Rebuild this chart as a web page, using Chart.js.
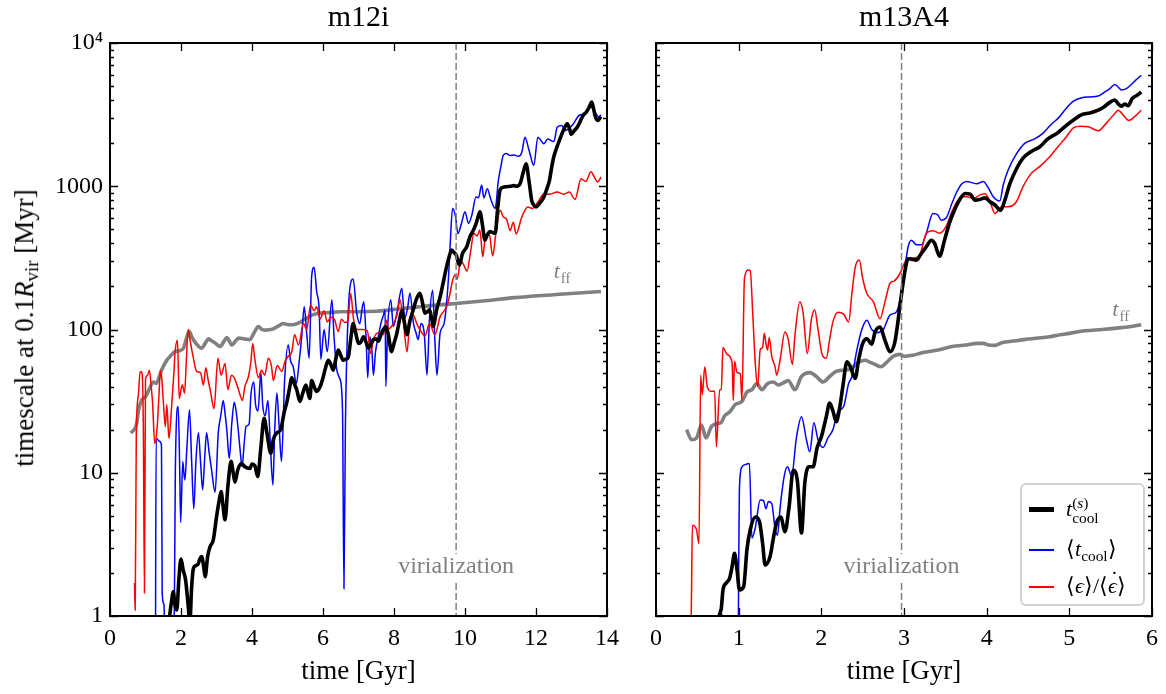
<!DOCTYPE html>
<html>
<head>
<meta charset="utf-8">
<script src="https://cdn.jsdelivr.net/npm/chart.js@4.4.0/dist/chart.umd.min.js"></script>
<style>
  body { margin: 0; background: #fff; }
  #wrap { position: relative; width: 1166px; height: 694px; font-family: "Liberation Serif", serif; }
  canvas { position: absolute; top: 0; }
  #ylab { position: absolute; left: 26px; top: 328px; transform: translate(-50%, -50%) rotate(-90deg);
          white-space: nowrap; font-size: 27px; color: #000; }
  #ylab sub { font-size: 0.7em; vertical-align: -0.25em; }
  #legend { position: absolute; left: 1020px; top: 483px; width: 121px; height: 119px;
            border: 2px solid #d2d2d2; border-radius: 6px; background: rgba(255,255,255,0.85); font-size: 22px; }
  .row { position: absolute; left: 0; width: 100%; height: 30px; }
  .swatch { position: absolute; left: 7px; width: 25px; }
  .lab { position: absolute; left: 44px; top: 0; white-space: nowrap; line-height: 30px; }
  .ss { display: inline-block; vertical-align: -0.45em; line-height: 0.95; font-size: 0.7em; text-align: left; }
  .lab sub { font-size: 0.7em; vertical-align: -0.3em; }
  .dot { position: relative; display: inline-block; }
  .dot::after { content: "\02D9"; position: absolute; left: 0.12em; top: -0.32em; font-style: normal; }
</style>
</head>
<body>
<div id="wrap">
  <canvas id="c1" width="640" height="694" style="left:0"></canvas>
  <canvas id="c2" width="546" height="694" style="left:620px"></canvas>
  <div id="ylab">timescale at 0.1<i>R</i><sub>vir</sub> [Myr]</div>
  <div id="legend">
    <div class="row" style="top:9px"><div class="swatch" style="top:13px;height:5px;background:#000"></div>
      <div class="lab"><i>t</i><span class="ss">(<i>s</i>)<br>cool</span></div></div>
    <div class="row" style="top:49px"><div class="swatch" style="top:15px;height:2px;background:#0000ff"></div>
      <div class="lab">⟨<i>t</i><sub>cool</sub>⟩</div></div>
    <div class="row" style="top:86px"><div class="swatch" style="top:15px;height:2px;background:#ff0000"></div>
      <div class="lab">⟨<i>ϵ</i>⟩/⟨<i class="dot">ϵ</i>⟩</div></div>
  </div>
</div>
<script>
// m12i panel, [time Gyr, timescale Myr]
const m12iTff = [[0.58,19],[0.68,20],[0.75,22],[0.8,27],[0.89,32],[1.0,34],[1.1,38],[1.22,43],[1.3,42],[1.45,52],[1.6,61],[1.72,66],[1.83,70],[1.95,71],[2.07,74],[2.15,86],[2.23,97],[2.31,88],[2.39,82],[2.48,77],[2.58,74],[2.68,80],[2.77,86],[2.84,84],[2.91,82],[3.0,79],[3.1,76],[3.2,82],[3.29,88],[3.36,83],[3.43,78],[3.52,82],[3.62,87],[3.78,86],[3.94,85],[4.06,95],[4.18,105],[4.28,100],[4.37,99],[4.6,101],[4.75,106],[4.88,110],[5.02,108],[5.16,108],[5.35,112],[5.48,118],[5.59,122],[5.72,127],[5.82,129],[6.1,131],[6.5,133],[7.0,133],[7.5,134],[7.89,137],[8.36,141],[8.73,144],[9.2,148],[9.75,152],[10.5,158],[11.4,167],[12.5,175],[13.2,180],[13.83,184]];

const m12iCoolS = [[1.62,0.7],[1.69,1.05],[1.74,1.3],[1.78,1.48],[1.83,1.2],[1.88,1.1],[1.94,1.8],[2.0,2.5],[2.06,2.1],[2.13,1.78],[2.2,1.2],[2.25,0.9],[2.3,1.6],[2.35,2.15],[2.42,2.25],[2.48,2.3],[2.53,2.5],[2.58,2.6],[2.64,2.2],[2.68,1.88],[2.75,2.6],[2.82,3.05],[2.91,3.4],[3.0,4.9],[3.07,6.3],[3.13,7.4],[3.18,6.0],[3.24,4.7],[3.32,8],[3.41,12],[3.47,10],[3.52,8.6],[3.6,10.5],[3.71,11.6],[3.8,11],[3.94,10.7],[4.0,11.5],[4.08,11.2],[4.16,9.4],[4.25,15],[4.34,24],[4.42,19],[4.53,13.7],[4.6,17],[4.7,19],[4.81,20],[4.9,26],[4.98,31],[5.05,38],[5.12,46],[5.19,42],[5.26,38],[5.35,31.5],[5.43,36],[5.52,41],[5.58,36],[5.63,33],[5.68,44],[5.75,40],[5.82,37],[5.92,40],[6.01,47],[6.08,55],[6.15,61],[6.22,57],[6.29,52],[6.36,62],[6.43,72],[6.5,66],[6.57,61],[6.64,62],[6.71,64],[6.78,85],[6.85,110],[6.92,95],[7.0,80],[7.07,82],[7.14,89],[7.21,82],[7.28,74],[7.35,79],[7.42,85],[7.49,86],[7.56,83],[7.63,92],[7.7,100],[7.77,105],[7.84,92],[7.93,70],[8.0,80],[8.08,94],[8.15,115],[8.22,135],[8.3,110],[8.36,92],[8.45,115],[8.54,137],[8.64,165],[8.73,179],[8.8,155],[8.87,130],[8.94,133],[9.0,137],[9.06,120],[9.11,105],[9.16,120],[9.2,137],[9.3,169],[9.39,215],[9.48,274],[9.55,320],[9.62,359],[9.69,345],[9.75,332],[9.84,282],[9.93,340],[10.05,378],[10.14,445],[10.21,480],[10.28,522],[10.35,590],[10.42,664],[10.49,540],[10.56,421],[10.63,460],[10.7,482],[10.78,476],[10.85,470],[10.92,700],[10.99,942],[11.08,985],[11.17,993],[11.28,1000],[11.38,1010],[11.46,1000],[11.55,1040],[11.64,1250],[11.72,1435],[11.8,1100],[11.88,795],[11.94,740],[12.0,716],[12.1,760],[12.22,840],[12.3,950],[12.38,1100],[12.44,1350],[12.5,1600],[12.58,1850],[12.66,2090],[12.77,2450],[12.88,2730],[12.94,2550],[12.99,2300],[13.08,2450],[13.16,2580],[13.25,2850],[13.33,3130],[13.42,3300],[13.5,3570],[13.57,3870],[13.62,3500],[13.66,3130],[13.74,2880],[13.83,3060]];

const m12iCoolAvg = [[1.28,0.5],[1.3,17.4],[1.35,17],[1.4,16.5],[1.45,15.5],[1.47,1.45],[1.52,1.2],[1.56,0.5],[1.8,0.5],[1.84,10],[1.92,29],[1.96,12],[1.99,4.5],[2.05,12],[2.08,10],[2.11,8.9],[2.16,14],[2.24,27.5],[2.3,12],[2.36,5.6],[2.42,12],[2.49,19],[2.55,12],[2.61,7.6],[2.67,13],[2.72,19],[2.79,14],[2.86,10.5],[2.96,7.3],[3.05,19],[3.12,25],[3.19,32],[3.24,26],[3.29,20],[3.36,12.6],[3.43,22],[3.5,31],[3.56,26],[3.62,19],[3.67,14],[3.72,11],[3.78,16],[3.83,21],[3.92,22],[3.97,35],[4.05,43],[4.1,30],[4.17,27],[4.25,50],[4.3,30],[4.37,25],[4.45,32],[4.52,15],[4.59,8.2],[4.64,20],[4.7,36],[4.76,22],[4.83,12],[4.92,45],[5.02,78],[5.09,60],[5.16,55],[5.25,42],[5.33,60],[5.4,89],[5.47,144],[5.54,95],[5.61,63],[5.68,234],[5.75,272],[5.82,185],[5.89,140],[5.94,62],[6.03,100],[6.12,70],[6.25,161],[6.31,90],[6.39,52],[6.48,45],[6.55,27],[6.59,1.55],[6.63,20],[6.71,130],[6.8,220],[6.85,225],[6.95,130],[7.04,110],[7.1,140],[7.15,156],[7.22,80],[7.26,46],[7.32,89],[7.38,70],[7.42,48],[7.48,70],[7.56,90],[7.63,110],[7.7,125],[7.75,137],[7.77,40],[7.82,100],[7.91,161],[7.98,105],[8.08,130],[8.22,194],[8.3,120],[8.38,140],[8.45,179],[8.55,110],[8.62,95],[8.68,85],[8.76,110],[8.85,95],[8.93,48],[9.0,120],[9.09,188],[9.15,85],[9.21,48],[9.3,95],[9.41,110],[9.53,220],[9.58,380],[9.65,700],[9.73,620],[9.8,468],[9.9,550],[10.0,665],[10.1,550],[10.2,640],[10.31,845],[10.38,830],[10.47,1020],[10.53,830],[10.63,960],[10.72,820],[10.85,700],[10.94,1100],[11.01,1370],[11.08,1650],[11.17,1690],[11.27,1640],[11.38,1650],[11.5,1620],[11.6,1730],[11.69,2200],[11.8,1800],[11.94,1400],[12.05,2200],[12.22,1980],[12.33,2140],[12.5,2050],[12.6,2590],[12.72,2650],[12.83,2450],[12.94,2550],[13.05,2720],[13.22,3130],[13.39,3200],[13.55,3570],[13.66,3300],[13.77,3040],[13.83,3150]];

const m12iEps = [[0.69,1.7],[0.71,1.1],[0.74,17.8],[0.8,35],[0.85,51],[0.9,50],[0.94,20],[0.97,1.45],[1.0,45],[1.06,48],[1.11,52],[1.16,40],[1.2,30.6],[1.26,16],[1.33,21],[1.38,35],[1.42,52],[1.46,45],[1.5,32],[1.56,21],[1.6,30],[1.66,17.4],[1.74,30],[1.8,50],[1.83,68],[1.9,84],[1.95,33],[2.0,38],[2.04,41],[2.1,36],[2.15,60],[2.2,100],[2.27,80],[2.34,65],[2.44,51],[2.55,50],[2.63,41],[2.7,54],[2.76,45],[2.83,37],[2.93,28],[3.04,63],[3.13,48],[3.24,58],[3.32,38],[3.42,48],[3.5,46],[3.62,38],[3.73,32],[3.8,40],[3.9,47],[3.97,60],[4.02,80],[4.08,62],[4.18,46],[4.27,52],[4.36,48],[4.46,63],[4.55,55],[4.6,44],[4.71,56],[4.84,51],[4.93,60],[5.02,65],[5.12,70],[5.2,92],[5.31,78],[5.45,110],[5.54,100],[5.65,148],[5.75,135],[5.82,144],[5.92,119],[6.03,135],[6.12,113],[6.22,122],[6.32,118],[6.43,97],[6.52,118],[6.62,112],[6.7,115],[6.78,179],[6.86,118],[6.95,100],[7.1,100],[7.25,98],[7.34,68],[7.42,85],[7.56,95],[7.7,92],[7.79,116],[7.84,101],[7.93,105],[8.08,125],[8.17,161],[8.26,115],[8.37,70],[8.45,120],[8.55,125],[8.64,110],[8.73,100],[8.87,90],[9.0,110],[9.15,92],[9.3,123],[9.48,144],[9.58,179],[9.65,220],[9.72,240],[9.78,225],[9.88,302],[9.97,280],[10.06,256],[10.15,340],[10.25,468],[10.34,450],[10.42,495],[10.5,322],[10.56,420],[10.68,470],[10.78,326],[10.87,468],[10.99,680],[11.08,610],[11.17,590],[11.27,490],[11.36,560],[11.44,465],[11.6,610],[11.77,716],[11.9,700],[12.1,810],[12.22,888],[12.38,880],[12.6,910],[12.78,880],[12.94,910],[13.1,810],[13.27,1130],[13.4,1080],[13.55,1260],[13.65,1150],[13.74,1070],[13.83,1160]];

// m13A4 panel
const m13Tff = [[0.37,20],[0.43,17],[0.49,17.5],[0.55,21.5],[0.605,17.5],[0.67,21],[0.73,22],[0.79,22.5],[0.83,25],[0.89,26.5],[0.96,30],[1.04,31.5],[1.1,36.6],[1.16,38],[1.22,42],[1.28,38],[1.35,42],[1.42,43],[1.48,41],[1.56,43],[1.6,44],[1.68,38],[1.76,47],[1.86,50],[1.94,47],[2.02,43],[2.1,47],[2.18,51],[2.26,52],[2.35,53],[2.43,58],[2.53,61],[2.59,59],[2.65,57],[2.72,55],[2.79,59],[2.87,65],[2.95,67],[3.0,65],[3.1,66],[3.23,69],[3.41,72],[3.58,76],[3.75,78],[3.89,80],[3.96,80],[4.02,78],[4.1,77.5],[4.19,81],[4.32,83],[4.45,85],[4.6,87],[4.76,89],[4.89,92],[5.0,94],[5.19,98],[5.4,100],[5.63,103],[5.75,105],[5.87,108]];

const m13CoolS = [[0.74,0.7],[0.766,1.0],[0.79,1.13],[0.81,1.52],[0.85,1.7],[0.89,1.83],[0.92,2.2],[0.95,2.74],[0.98,2.1],[1.01,1.52],[1.06,1.6],[1.1,2.9],[1.14,4.0],[1.2,4.9],[1.25,4.6],[1.29,3.2],[1.32,2.27],[1.38,2.6],[1.42,3.5],[1.46,4.5],[1.51,4.9],[1.56,3.88],[1.61,5.8],[1.66,10.4],[1.71,8.8],[1.76,3.8],[1.8,8.5],[1.85,11],[1.9,11],[1.95,15],[2.0,17.8],[2.06,24.6],[2.1,30.6],[2.14,27],[2.18,22.7],[2.22,28],[2.26,40],[2.31,59.6],[2.35,55],[2.41,45.6],[2.45,61],[2.5,80],[2.55,86],[2.61,79],[2.65,96],[2.71,104],[2.77,84],[2.83,70],[2.89,82],[2.95,144],[3.0,233],[3.05,312],[3.09,310],[3.15,305],[3.21,340],[3.27,378],[3.33,420],[3.37,400],[3.43,325],[3.49,420],[3.55,555],[3.61,680],[3.67,800],[3.74,890],[3.8,880],[3.86,800],[3.92,810],[3.98,830],[4.04,780],[4.1,740],[4.17,680],[4.22,800],[4.28,1040],[4.36,1320],[4.44,1570],[4.54,1750],[4.64,1880],[4.74,2140],[4.85,2340],[4.95,2620],[5.05,2900],[5.15,3160],[5.25,3250],[5.35,3400],[5.41,3550],[5.49,3850],[5.55,4000],[5.59,3770],[5.63,3620],[5.67,3750],[5.71,3650],[5.76,4090],[5.82,4320],[5.87,4550]];

const m13CoolAvg = [[0.76,1.1],[0.79,1.05],[0.82,0.8],[0.99,0.5],[1.01,8],[1.04,11],[1.08,11.4],[1.13,11.6],[1.16,3.5],[1.2,4.1],[1.26,6.45],[1.3,6.4],[1.33,5.6],[1.36,6.3],[1.4,6.1],[1.44,4.1],[1.47,3.66],[1.5,5.6],[1.55,9.4],[1.59,11],[1.64,9.5],[1.7,17.8],[1.76,24.6],[1.82,17],[1.86,14],[1.91,22.3],[1.96,17],[2.02,15],[2.08,17.5],[2.14,20],[2.2,26.6],[2.27,29],[2.33,42],[2.37,47],[2.43,72],[2.49,100],[2.55,116],[2.61,100],[2.67,95],[2.75,100],[2.83,126],[2.91,133],[2.95,160],[3.0,245],[3.05,378],[3.09,420],[3.15,390],[3.21,390],[3.27,470],[3.35,645],[3.41,630],[3.45,580],[3.51,600],[3.58,760],[3.64,915],[3.7,1040],[3.76,1080],[3.82,1060],[3.88,1040],[3.96,1080],[4.02,975],[4.08,845],[4.16,790],[4.2,1020],[4.26,1300],[4.36,1680],[4.46,1990],[4.58,2140],[4.68,2340],[4.78,2700],[4.88,3050],[4.96,3490],[5.05,3930],[5.15,4150],[5.25,4200],[5.35,4260],[5.43,4550],[5.49,4800],[5.55,5130],[5.59,4930],[5.63,4700],[5.69,4800],[5.76,5200],[5.8,5480],[5.87,5950]];

const m13Eps = [[0.42,0.5],[0.43,1.5],[0.44,4.3],[0.49,4.0],[0.52,3.2],[0.54,48],[0.56,35],[0.59,55],[0.62,40],[0.67,37],[0.71,37],[0.73,15.2],[0.77,38],[0.79,38],[0.81,75],[0.86,67],[0.92,59],[0.935,32],[0.95,60],[0.98,50],[1.02,49],[1.04,32],[1.07,228],[1.12,260],[1.14,258],[1.17,130],[1.2,59],[1.23,40],[1.26,72],[1.29,75],[1.31,94],[1.33,80],[1.35,72],[1.37,88],[1.4,65],[1.44,55],[1.46,48],[1.5,61],[1.56,96],[1.6,85],[1.65,57],[1.68,90],[1.74,156],[1.78,130],[1.83,68],[1.88,118],[1.92,137],[1.96,100],[2.01,67],[2.06,63],[2.1,85],[2.14,113],[2.2,132],[2.27,128],[2.33,113],[2.37,179],[2.41,272],[2.46,306],[2.5,228],[2.55,179],[2.63,156],[2.71,119],[2.77,156],[2.83,210],[2.88,218],[2.95,245],[3.03,306],[3.11,315],[3.19,330],[3.27,470],[3.35,490],[3.43,470],[3.51,525],[3.58,665],[3.64,780],[3.7,845],[3.76,845],[3.84,820],[3.92,870],[3.98,885],[4.04,780],[4.1,645],[4.18,720],[4.26,720],[4.36,780],[4.44,995],[4.54,1230],[4.64,1370],[4.76,1600],[4.86,1880],[4.96,2200],[5.05,2560],[5.13,2620],[5.23,2600],[5.35,2440],[5.45,2770],[5.55,3220],[5.59,3390],[5.66,3100],[5.72,2880],[5.8,3100],[5.87,3390]];

const yTickValues = [1, 10, 100, 1000, 10000];
const yTickLabels = ['1', '10', '100', '1000', '10\u2074'];

const FONT = '"Liberation Serif", serif';
const GRAY = '#808080';

function pts(arr) {
    return arr.map(p => ({ x: p[0], y: p[1] }));
}

// frame, inward ticks, titles, virialization marker, t_ff label
const panelDeco = {
    id: 'panelDeco',
    afterDatasetsDraw(chart, args, o) {
        const { ctx, chartArea: a, scales: { x, y } } = chart;
        ctx.save();
        const vx = x.getPixelForValue(o.vir);
        ctx.strokeStyle = GRAY;
        ctx.lineWidth = 1.5;
        ctx.setLineDash([7, 3]);
        ctx.beginPath();
        ctx.moveTo(vx, a.top);
        ctx.lineTo(vx, a.bottom);
        ctx.stroke();
        ctx.setLineDash([]);

        ctx.font = '24px ' + FONT;
        const ty = y.getPixelForValue(2.2);
        const w = ctx.measureText('virialization').width;
        ctx.fillStyle = '#fff';
        ctx.fillRect(vx - w / 2 - 2, ty - 13, w + 4, 26);
        ctx.fillStyle = GRAY;
        ctx.textAlign = 'center';
        ctx.textBaseline = 'middle';
        ctx.fillText('virialization', vx, ty);

        // t_ff label
        const lx = x.getPixelForValue(o.tff[0]);
        const ly = y.getPixelForValue(o.tff[1]);
        ctx.textAlign = 'left';
        ctx.textBaseline = 'alphabetic';
        ctx.font = 'italic 22px ' + FONT;
        ctx.fillText('t', lx, ly);
        const tw = ctx.measureText('t').width;
        ctx.font = '15px ' + FONT;
        ctx.fillText('ff', lx + tw + 1, ly + 5);
        ctx.restore();
    },
    afterDraw(chart, args, o) {
        const { ctx, chartArea: a, scales: { x, y } } = chart;
        ctx.save();
        ctx.strokeStyle = '#000';
        ctx.lineWidth = 1.3;
        ctx.beginPath();
        for (let v = 0; v <= o.xMax + 1e-9; v += o.xStep) {
            const px = Math.round(x.getPixelForValue(v)) + 0.5;
            ctx.moveTo(px, a.bottom); ctx.lineTo(px, a.bottom - 8);
            ctx.moveTo(px, a.top); ctx.lineTo(px, a.top + 8);
        }
        for (let d = 1; d <= 10000; d *= 10) {
            for (let k = 1; k <= 9; k++) {
                const v = d * k;
                if (v > 10000) break;
                const py = Math.round(y.getPixelForValue(v)) + 0.5;
                const len = k === 1 ? 8 : 4;
                ctx.moveTo(a.left, py); ctx.lineTo(a.left + len, py);
                ctx.moveTo(a.right, py); ctx.lineTo(a.right - len, py);
            }
        }
        ctx.stroke();
        ctx.lineWidth = 2;
        ctx.strokeRect(a.left, a.top, a.right - a.left, a.bottom - a.top);

        ctx.fillStyle = '#000';
        ctx.font = '30px ' + FONT;
        ctx.textAlign = 'center';
        ctx.textBaseline = 'alphabetic';
        ctx.fillText(o.title, (a.left + a.right) / 2, 26);
        ctx.restore();
    }
};
Chart.register(panelDeco);

function makePanel(id, cfg) {
    const line = (data, color, width) => ({
        data: pts(data),
        borderColor: color,
        borderWidth: width,
        pointRadius: 0,
        fill: false,
        cubicInterpolationMode: 'monotone',
        clip: 0
    });
    return new Chart(document.getElementById(id), {
        type: 'line',
        data: {
            datasets: [
                line(cfg.coolS, '#000000', 3.6),
                line(cfg.eps, '#ff0000', 1.5),
                line(cfg.coolAvg, '#0000ff', 1.5),
                line(cfg.tff, GRAY, 3.6)
            ]
        },
        options: {
            responsive: false,
            animation: false,
            devicePixelRatio: 1,
            layout: { padding: cfg.padding },
            plugins: {
                legend: { display: false },
                tooltip: { enabled: false },
                panelDeco: { vir: cfg.vir, tff: cfg.tffLabel, xMax: cfg.xMax, xStep: cfg.xStep, title: cfg.title }
            },
            scales: {
                x: {
                    type: 'linear', min: 0, max: cfg.xMax,
                    grid: { display: false, drawTicks: false },
                    border: { display: false },
                    ticks: { stepSize: cfg.xStep, autoSkip: false, maxRotation: 0, padding: 8,
                             color: '#000', font: { family: FONT, size: 24 } },
                    title: { display: true, text: 'time [Gyr]', color: '#000',
                             font: { family: FONT, size: 27 }, padding: { top: 0, bottom: 2 } },
                    afterFit: s => { s.height = 74; }
                },
                y: {
                    type: 'logarithmic', min: 1, max: 10000,
                    grid: { display: false, drawTicks: false },
                    border: { display: false },
                    afterBuildTicks: s => { s.ticks = yTickValues.map(v => ({ value: v })); },
                    ticks: { display: cfg.yLabels, padding: 7, color: '#000', font: { family: FONT, size: 24 },
                             callback: v => yTickLabels[yTickValues.indexOf(v)] },
                    afterFit: s => { s.width = cfg.yWidth; }
                }
            }
        }
    });
}

makePanel('c1', {
    title: 'm12i', coolS: m12iCoolS, eps: m12iEps, coolAvg: m12iCoolAvg, tff: m12iTff,
    xMax: 14, xStep: 2, vir: 9.75, tffLabel: [12.5, 229], yLabels: true, yWidth: 60,
    padding: { left: 50, right: 33, top: 43, bottom: 4 }
});
makePanel('c2', {
    title: 'm13A4', coolS: m13CoolS, eps: m13Eps, coolAvg: m13CoolAvg, tff: m13Tff,
    xMax: 6, xStep: 1, vir: 2.97, tffLabel: [5.52, 124], yLabels: false, yWidth: 16,
    padding: { left: 20, right: 13, top: 43, bottom: 4 }
});
</script>
</body>
</html>
